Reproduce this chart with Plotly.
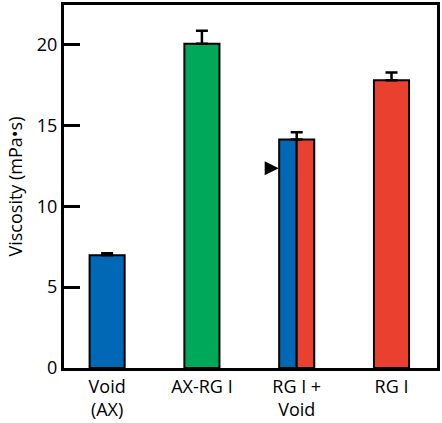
import plotly.graph_objects as go

categories = ["Void<br>(AX)", "AX-RG I", "RG I +<br>Void", "RG I"]
viscosity = [6.97, 20.06, 14.13, 17.8]
sem = [0.13, 0.8, 0.45, 0.48]
# Colour halves of each bar (left, right)
left_colors = ["#0068b5", "#00a859", "#0068b5", "#e9402f"]
right_colors = ["#0068b5", "#00a859", "#e9402f", "#e9402f"]
arrow_value = 12.35
y_ticks = [0, 5, 10, 15, 20]

BAR_W = 0.37
fig = go.Figure()

for i, (v, lc, rc) in enumerate(zip(viscosity, left_colors, right_colors)):
    if lc == rc:
        fig.add_trace(go.Bar(x=[i], y=[v], width=[BAR_W],
                             marker=dict(color=lc, line=dict(color="black", width=2)),
                             showlegend=False, hoverinfo="y"))
    else:
        half = BAR_W / 2
        fig.add_trace(go.Bar(x=[i - half / 2], y=[v], width=[half],
                             marker=dict(color=lc, line=dict(color="black", width=2)),
                             showlegend=False, hoverinfo="y"))
        fig.add_trace(go.Bar(x=[i + half / 2], y=[v], width=[half],
                             marker=dict(color=rc, line=dict(color="black", width=2)),
                             showlegend=False, hoverinfo="y"))

fig.add_trace(go.Scatter(
    x=list(range(len(categories))), y=viscosity, mode="markers",
    marker=dict(size=1, color="rgba(0,0,0,0)"),
    error_y=dict(type="data", symmetric=False, array=sem,
                 arrayminus=[0] * len(sem), color="black", thickness=2.5, width=6),
    showlegend=False, hoverinfo="skip"))

# arrow pointing at the split bar
split_idx = 2
fig.add_annotation(x=split_idx - BAR_W / 2 - 0.005, y=arrow_value, xref="x", yref="y",
                   ax=-15, ay=0, showarrow=True, arrowhead=2, arrowsize=1.4,
                   arrowwidth=2, arrowcolor="black", text="")

fig.update_layout(
    width=442, height=423,
    margin=dict(l=64, r=2, t=3, b=53),
    plot_bgcolor="white", paper_bgcolor="white",
    barmode="overlay",
    font=dict(family="Open Sans, Liberation Sans, sans-serif", size=17, color="black"),
    xaxis=dict(range=[-0.455, 3.48], tickvals=list(range(len(categories))),
               ticktext=categories, showgrid=False, zeroline=False,
               showline=True, linecolor="black", linewidth=3, mirror=True,
               ticks="", tickfont=dict(size=18)),
    yaxis=dict(range=[0, 22.45], tickvals=y_ticks, showgrid=False, zeroline=False,
               showline=True, linecolor="black", linewidth=3, mirror=True,
               ticks="inside", ticklen=16, tickwidth=3, tickcolor="black",
               tickfont=dict(size=18),
               title=dict(text="Viscosity (mPa•s)", font=dict(size=18), standoff=10)),
)

fig.write_html("out.html", config={"displayModeBar": False},
               post_script="document.body.style.margin='0';document.body.style.overflow='hidden';")
